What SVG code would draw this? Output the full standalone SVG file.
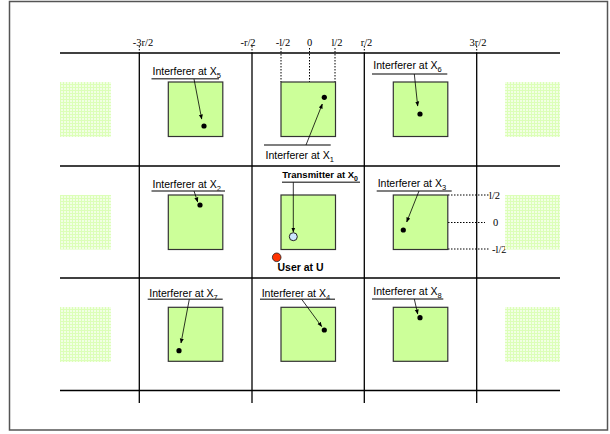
<svg xmlns="http://www.w3.org/2000/svg" width="610" height="434" viewBox="0 0 610 434">
<style>
.grid{stroke:#000;stroke-width:1.3;fill:none}
.dot{stroke:#000;stroke-width:1;stroke-dasharray:1.5 1.5;fill:none}
.sq{fill:#ccff99;stroke:#333;stroke-width:1.2}
.hat{fill:url(#hatch)}
.ax{font-family:"Liberation Serif","Times New Roman",serif;font-size:10.5px;fill:#000}
.lbl{font-family:"Liberation Sans",Arial,sans-serif;font-size:10.5px;fill:#000}
.bold{font-family:"Liberation Sans",Arial,sans-serif;font-weight:bold;fill:#000}
.ul{stroke:#555;stroke-width:1.5}
.arr{stroke:#000;stroke-width:0.8;fill:none;marker-end:url(#ah)}
.pt{fill:#000}
</style>
<defs>
<pattern id="hatch" width="3" height="3" patternUnits="userSpaceOnUse">
<rect width="3" height="3" fill="#f2ffe4"/>
<path d="M0 0.5H3M0.5 0V3" stroke="#dcffb8" stroke-width="1"/>
</pattern>
<marker id="ah" viewBox="0 0 10 10" refX="9" refY="5" markerWidth="5" markerHeight="5" orient="auto" markerUnits="userSpaceOnUse">
<path d="M0 1L10 5L0 9z" fill="#000"/>
</marker>
</defs>
<rect x="0" y="0" width="610" height="434" fill="#fff"/>
<rect x="9.5" y="1.5" width="598" height="428.5" fill="none" stroke="#555" stroke-width="1.5"/>

<g id="grid">
<line class="grid" x1="60" y1="53" x2="560" y2="53"/>
<line class="grid" x1="60" y1="166" x2="560" y2="166"/>
<line class="grid" x1="60" y1="278" x2="560" y2="278"/>
<line class="grid" x1="60" y1="390.5" x2="560" y2="390.5"/>
<line class="grid" x1="139.3" y1="53" x2="139.3" y2="403"/>
<line class="grid" x1="252" y1="53" x2="252" y2="403"/>
<line class="grid" x1="364.3" y1="53" x2="364.3" y2="403"/>
<line class="grid" x1="476.7" y1="53" x2="476.7" y2="403"/>
<line class="dot" x1="139.3" y1="46" x2="139.3" y2="53"/>
<line class="dot" x1="252" y1="46" x2="252" y2="53"/>
<line class="dot" x1="364.3" y1="46" x2="364.3" y2="53"/>
<line class="dot" x1="476.7" y1="46" x2="476.7" y2="53"/>
</g>

<g id="axis-labels">
<text class="ax" x="143" y="46" text-anchor="middle">-3r/2</text>
<text class="ax" x="248" y="46" text-anchor="middle">-r/2</text>
<text class="ax" x="283" y="46" text-anchor="middle">-l/2</text>
<text class="ax" x="309.5" y="46" text-anchor="middle">0</text>
<text class="ax" x="337" y="46" text-anchor="middle">l/2</text>
<text class="ax" x="366.5" y="46" text-anchor="middle">r/2</text>
<text class="ax" x="478" y="46" text-anchor="middle">3r/2</text>
<line class="dot" x1="281" y1="48" x2="281" y2="82"/>
<line class="dot" x1="309.5" y1="48" x2="309.5" y2="82"/>
<line class="dot" x1="335" y1="48" x2="335" y2="82"/>
<line class="dot" x1="448" y1="195" x2="489" y2="195"/>
<line class="dot" x1="448" y1="222.5" x2="485" y2="222.5"/>
<line class="dot" x1="448" y1="249" x2="490" y2="249"/>
<text class="ax" x="489" y="198.5">l/2</text>
<text class="ax" x="493" y="226">0</text>
<text class="ax" x="492" y="252.5">-l/2</text>
</g>

<g id="ghost-cells">
<rect class="hat" x="60" y="82" width="51" height="55"/>
<rect class="hat" x="60" y="195" width="51" height="54.5"/>
<rect class="hat" x="60" y="307" width="51" height="55"/>
<rect class="hat" x="505" y="82" width="55" height="55"/>
<rect class="hat" x="505" y="195" width="55" height="54.5"/>
<rect class="hat" x="505" y="307" width="55" height="55"/>
</g>

<g id="cell-X5">
<rect class="sq" x="168.3" y="82" width="54.5" height="54.5"/>
<text class="lbl" x="152.5" y="75">Interferer at X<tspan font-size="7.5" dy="3">5</tspan></text>
<line class="ul" x1="151.5" y1="78.8" x2="219" y2="78.8"/>
<circle class="pt" cx="204" cy="126" r="2.6"/>
</g>
<g id="cell-X1">
<rect class="sq" x="281" y="82" width="54.5" height="54.5"/>
<line class="ul" x1="264" y1="145" x2="330.7" y2="145"/>
<text class="lbl" x="265.5" y="158.5">Interferer at X<tspan font-size="7.5" dy="3">1</tspan></text>
<circle class="pt" cx="324.3" cy="97.3" r="2.6"/>
</g>
<g id="cell-X6">
<rect class="sq" x="393.3" y="82" width="54.5" height="54.5"/>
<text class="lbl" x="373.3" y="69">Interferer at X<tspan font-size="7.5" dy="3">6</tspan></text>
<line class="ul" x1="372" y1="74" x2="447.3" y2="74"/>
<circle class="pt" cx="420" cy="114" r="2.6"/>
</g>
<g id="cell-X2">
<rect class="sq" x="168.3" y="195" width="54.5" height="54.5"/>
<text class="lbl" x="152.5" y="188">Interferer at X<tspan font-size="7.5" dy="3">2</tspan></text>
<line class="ul" x1="151.5" y1="191" x2="225" y2="191"/>
<circle class="pt" cx="200" cy="205" r="2.6"/>
</g>
<g id="cell-X0">
<rect class="sq" x="281" y="195" width="54.5" height="54.5"/>
<text class="bold" x="282.3" y="178" font-size="9.5">Transmitter at X<tspan font-size="7" dy="2.5">0</tspan></text>
<line class="ul" x1="282" y1="182.3" x2="360" y2="182.3"/>
<circle cx="293.3" cy="236.7" r="4" fill="#cce6ff" stroke="#222" stroke-width="1"/>
</g>
<g id="user-U">
<circle cx="276.7" cy="257.3" r="4.3" fill="#ff3300" stroke="#222" stroke-width="0.8"/>
<text class="bold" x="277.5" y="271" font-size="10.5">User at U</text>
</g>
<g id="cell-X3">
<rect class="sq" x="393.3" y="195" width="54.5" height="54.5"/>
<text class="lbl" x="377.7" y="186.5">Interferer at X<tspan font-size="7.5" dy="3">3</tspan></text>
<line class="ul" x1="376.7" y1="191" x2="451.7" y2="191"/>
<circle class="pt" cx="403.3" cy="230" r="2.6"/>
</g>
<g id="cell-X7">
<rect class="sq" x="168.3" y="307.3" width="54.5" height="54"/>
<text class="lbl" x="149.3" y="296.5">Interferer at X<tspan font-size="7.5" dy="3">7</tspan></text>
<line class="ul" x1="147.7" y1="299.3" x2="222.7" y2="299.3"/>
<circle class="pt" cx="179" cy="350.7" r="2.6"/>
</g>
<g id="cell-X4">
<rect class="sq" x="281" y="307.3" width="54.5" height="54"/>
<text class="lbl" x="261.7" y="296.5">Interferer at X<tspan font-size="7.5" dy="3">4</tspan></text>
<line class="ul" x1="260" y1="299.3" x2="335" y2="299.3"/>
<circle class="pt" cx="324.3" cy="330" r="2.6"/>
</g>
<g id="cell-X8">
<rect class="sq" x="393.3" y="307.3" width="54.5" height="54"/>
<text class="lbl" x="373.3" y="294.5">Interferer at X<tspan font-size="7.5" dy="3">8</tspan></text>
<line class="ul" x1="372" y1="299" x2="443.3" y2="299"/>
<circle class="pt" cx="420" cy="317.7" r="2.6"/>
</g>

<g id="connectors">
<line class="arr" x1="194" y1="79" x2="201.7" y2="119"/>
<line class="arr" x1="306" y1="145" x2="322.3" y2="104"/>
<line class="arr" x1="414.3" y1="74" x2="417.7" y2="106"/>
<line class="arr" x1="194" y1="191" x2="197.7" y2="202"/>
<line class="arr" x1="293.3" y1="182.3" x2="293.3" y2="232"/>
<line class="arr" x1="419" y1="191" x2="406.7" y2="222"/>
<line class="arr" x1="189.3" y1="299.3" x2="181" y2="343"/>
<line class="arr" x1="301.7" y1="299.3" x2="321.7" y2="326.5"/>
<line class="arr" x1="414.3" y1="299" x2="417.7" y2="314"/>
</g>
</svg>
